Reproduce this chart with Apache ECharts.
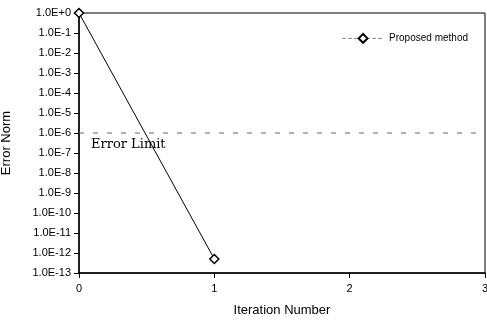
<!DOCTYPE html>
<html>
<head>
<meta charset="utf-8">
<script src="https://cdn.jsdelivr.net/npm/echarts@6/dist/echarts.min.js"></script>
<style>
  html, body { margin: 0; padding: 0; background: #fff; }
  #chart { width: 487px; height: 320px; }
</style>
</head>
<body>
<div id="chart"></div>
<script>
var iterations = [0, 1];
var errorNorm = [1, 5e-13];
var limitX = [0, 3];
var errorLimit = 1e-6;
var seriesName = 'Proposed method';

var chart = echarts.init(document.getElementById('chart'));

function expLabel(v) {
  var e = Math.round(Math.log10(v));
  return '1.0E' + (e >= 0 ? '+' + e : e);
}

var option = {
  animation: false,
  backgroundColor: '#fff',
  textStyle: { fontFamily: 'Liberation Sans' },
  grid: {
    left: 79, right: 2, top: 13, bottom: 47,
    outerBoundsMode: 'none',
    containLabel: false,
    show: true, borderColor: '#000', borderWidth: 1
  },
  legend: {
    data: [seriesName],
    top: 28, right: 14,
    itemWidth: 42, itemHeight: 11,
    itemGap: 12,
    lineStyle: { type: 'dashed', width: 1, color: '#888' },
    textStyle: { fontSize: 10, color: '#000', fontFamily: 'Liberation Sans' }
  },
  xAxis: {
    type: 'value',
    min: 0, max: 3, interval: 1,
    name: 'Iteration Number',
    nameLocation: 'middle',
    nameGap: 31,
    nameTextStyle: { fontSize: 13, color: '#000' },
    axisLine: { onZero: false, lineStyle: { color: '#000', width: 1.5 } },
    axisTick: { show: true, length: 5, lineStyle: { color: '#000' } },
    axisLabel: { color: '#000', fontSize: 11, margin: 10 },
    splitLine: { show: false }
  },
  yAxis: {
    type: 'log',
    logBase: 10,
    min: 1e-13, max: 1,
    interval: 1,
    name: 'Error Norm',
    nameLocation: 'middle',
    nameGap: 66,
    nameTextStyle: { fontSize: 13, color: '#000' },
    axisLine: { show: true, lineStyle: { color: '#000', width: 1.5 } },
    axisTick: { show: true, length: 5, lineStyle: { color: '#000' } },
    axisLabel: { color: '#000', fontSize: 11, margin: 8, formatter: expLabel },
    splitLine: { show: false }
  },
  series: [
    {
      name: 'Error Limit',
      type: 'line',
      data: limitX.map(function (x) { return [x, errorLimit]; }),
      symbol: 'none',
      silent: true,
      z: 1,
      lineStyle: { color: '#666', type: [5, 9], width: 1 }
    },
    {
      name: seriesName,
      type: 'line',
      data: iterations.map(function (x, i) { return [x, errorNorm[i]]; }),
      symbol: 'diamond',
      symbolSize: 9,
      showAllSymbol: true,
      z: 3,
      lineStyle: { color: '#000', width: 1 },
      itemStyle: { color: '#fff', borderColor: '#000', borderWidth: 1.5 }
    }
  ]
};

chart.setOption(option);

// caption for the limit line, just below it
var p = chart.convertToPixel({ gridIndex: 0 }, [0, errorLimit]);
chart.setOption({
  graphic: [{
    type: 'text',
    left: p[0] + 12,
    top: p[1] + 5,
    silent: true,
    style: { text: 'Error Limit', fontFamily: 'DejaVu Serif', fontSize: 13, fill: '#000' }
  }]
});
</script>
</body>
</html>
